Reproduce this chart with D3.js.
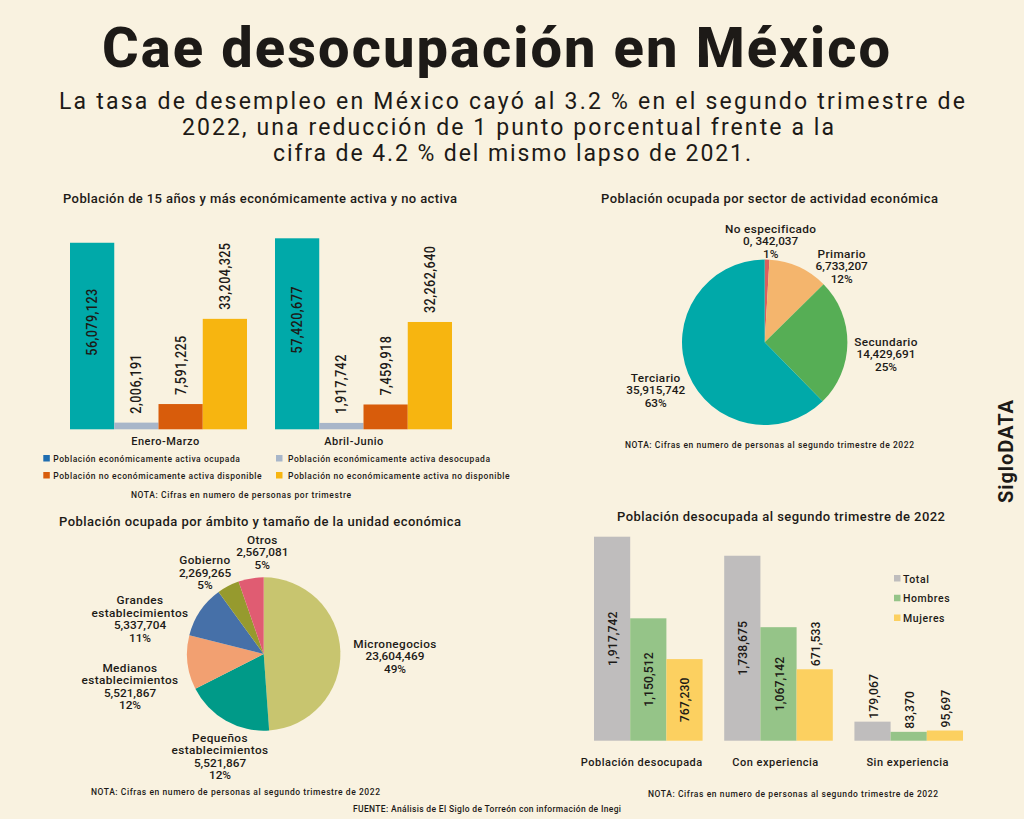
<!DOCTYPE html>
<html>
<head>
<meta charset="utf-8">
<script src="https://cdn.jsdelivr.net/npm/d3@7"></script>
<style>
  html, body { margin: 0; padding: 0; background: #f9f2e0; }
  svg { display: block; }
  text { font-family: Roboto, "Noto Sans", sans-serif; fill: #1d1a17; font-weight: 480; }
</style>
</head>
<body>
<div id="chart"></div>
<script>
// activity chart
var quarters = ["Enero-Marzo", "Abril-Junio"];
var activitySeries = [
  "Población económicamente activa ocupada",
  "Población económicamente activa desocupada",
  "Población no económicamente activa disponible",
  "Población no económicamente activa no disponible"
];
var activityQ1 = [56079123, 2006191, 7591225, 33204325];
var activityQ2 = [57420677, 1917742, 7459918, 32262640];

// sector pie. The slices are drawn a bit off the printed labels, so the slice
// values are read off the wedges and the labels are kept as printed
var sectorNames = ["No especificado", "Primario", "Secundario", "Terciario"];
var sectorValues = [530000, 6733207, 14429691, 35915742];
var sectorValueLabels = ["0, 342,037", "6,733,207", "14,429,691", "35,915,742"];
var sectorPercents = ["1%", "12%", "25%", "63%"];

// unit size pie, same thing for Pequeños
var unitNames = [
  ["Micronegocios"],
  ["Pequeños", "establecimientos"],
  ["Medianos", "establecimientos"],
  ["Grandes", "establecimientos"],
  ["Gobierno"],
  ["Otros"]
];
var unitValues = [23604469, 9000000, 5521867, 5337704, 2269265, 2567081];
var unitValueLabels = ["23,604,469", "5,521,867", "5,521,867", "5,337,704", "2,269,265", "2,567,081"];
var unitPercents = ["49%", "12%", "12%", "11%", "5%", "5%"];

// unemployed chart
var unemployedGroups = ["Población desocupada", "Con experiencia", "Sin experiencia"];
var unemployedSeries = ["Total", "Hombres", "Mujeres"];
var unemployedTotal = [1917742, 1738675, 179067];
var unemployedMen = [1150512, 1067142, 83370];
var unemployedWomen = [767230, 671533, 95697];

var activityColors = ["#00a9a9", "#a8b6c9", "#d85c0b", "#f7b510"];
var activityLegendColors = ["#1f6db0", "#a8b6c9", "#d85c0b", "#f7b510"];
var sectorColors = ["#d9605f", "#f4b56d", "#56ae55", "#00a9a9"];
var unitColors = ["#c8c56f", "#009a88", "#f2a071", "#4670a8", "#969a2e", "#e05c72"];
var unemployedColors = ["#bfbdbd", "#95c488", "#fcd060"];

var fmt = d3.format(",");
var svg = d3.select("#chart").append("svg").attr("width", 1024).attr("height", 819);

function fitText(x, y, str, size, width, weight) {
  var t = svg.append("text")
    .attr("x", x).attr("y", y)
    .attr("font-size", size)
    .attr("textLength", width).attr("lengthAdjust", "spacing")
    .text(str);
  if (weight) t.style("font-weight", weight);
  return t;
}

fitText(102, 67, "Cae desocupación en México", 56, 788, 800);
fitText(59, 109, "La tasa de desempleo en México cayó al 3.2 % en el segundo trimestre de", 23, 906, 430);
fitText(182, 135, "2022, una reducción de 1 punto porcentual frente a la", 23, 652, 430);
fitText(273, 161, "cifra de 4.2 % del mismo lapso de 2021.", 23, 478, 430);

fitText(63, 203, "Población de 15 años y más económicamente activa y no activa", 13, 394);
fitText(601, 203, "Población ocupada por sector de actividad económica", 13, 337);
fitText(59, 526, "Población ocupada por ámbito y tamaño de la unidad económica", 13, 402);
fitText(617, 521, "Población desocupada al segundo trimestre de 2022", 13, 328);

fitText(131, 498, "NOTA: Cifras en numero de personas por trimestre", 8.5, 220);
fitText(625, 448, "NOTA: Cifras en numero de personas al segundo trimestre de 2022", 8.5, 289);
fitText(91, 795, "NOTA: Cifras en numero de personas al segundo trimestre de 2022", 8.5, 289);
fitText(648, 797, "NOTA: Cifras en numero de personas al segundo trimestre de 2022", 8.5, 290);
fitText(353, 812, "FUENTE: Análisis de El Siglo de Torreón con información de Inegi", 8.5, 268);

svg.append("text")
  .attr("transform", "translate(1013,503) rotate(-90)")
  .attr("font-size", 20).style("font-weight", 700)
  .attr("textLength", 103).attr("lengthAdjust", "spacing")
  .text("SigloDATA");

// grouped bars with rotated value labels, big bars carry the label inside
function groupedBars(opts) {
  var x0 = d3.scaleBand().domain(opts.groups).range(opts.xRange).paddingInner(opts.gap);
  var x1 = d3.scaleBand().domain(d3.range(opts.colors.length)).range([0, x0.bandwidth()]);
  var y = d3.scaleLinear().domain([0, opts.max]).range([opts.base, opts.top]);

  var g = svg.selectAll(null).data(opts.rows).enter().append("g")
    .attr("transform", function (d, i) { return "translate(" + x0(opts.groups[i]) + ",0)"; });

  g.selectAll("rect").data(function (d) { return d; }).enter().append("rect")
    .attr("x", function (d, i) { return x1(i); })
    .attr("y", function (d) { return y(d); })
    .attr("width", x1.bandwidth())
    .attr("height", function (d) { return y(0) - y(d); })
    .attr("fill", function (d, i) { return opts.colors[i]; });

  g.selectAll("text").data(function (d) { return d; }).enter().append("text")
    .attr("transform", function (d, i) {
      var ty = d > opts.insideOver ? (y(d) + y(0)) / 2 - opts.insideLift : y(d) - opts.outsideGap;
      return "translate(" + (x1(i) + x1.bandwidth() / 2 + 5) + "," + ty + ") rotate(-90) scale(0.9,1)";
    })
    .attr("text-anchor", function (d) { return d > opts.insideOver ? "middle" : "start"; })
    .attr("font-size", opts.labelSize)
    .attr("letter-spacing", opts.labelSpacing)
    .text(function (d) { return fmt(d); });

  var axis = svg.append("g")
    .attr("transform", "translate(0," + opts.base + ")")
    .call(d3.axisBottom(x0).tickSize(0).tickPadding(opts.axisPad));
  axis.select(".domain").remove();
  // category labels do not sit quite under their groups in the original
  axis.selectAll("text")
    .attr("font-family", null)
    .attr("font-size", opts.axisSize)
    .attr("letter-spacing", opts.axisSpacing)
    .attr("dx", function (d, i) { return opts.axisShift[i]; });
}

groupedBars({
  groups: quarters,
  rows: [activityQ1, activityQ2],
  colors: activityColors,
  xRange: [70, 452],
  gap: 0.1366,
  base: 429.3,
  top: 238.3,
  max: 57420677,
  insideOver: 50000000,
  insideLift: 14,
  outsideGap: 9,
  labelSize: 14,
  labelSpacing: 0.5,
  axisShift: [7, -9.5],
  axisPad: 8,
  axisSize: 11,
  axisSpacing: 0.5
});

groupedBars({
  groups: unemployedGroups,
  rows: d3.range(3).map(function (i) { return [unemployedTotal[i], unemployedMen[i], unemployedWomen[i]]; }),
  colors: unemployedColors,
  xRange: [594, 963],
  gap: 0.166,
  base: 740.7,
  top: 536.7,
  max: 1917742,
  insideOver: 700000,
  insideLift: 0,
  outsideGap: 3,
  labelSize: 13.5,
  labelSpacing: 0.1,
  axisShift: [-6.5, -3, -1],
  axisPad: 18,
  axisSize: 11,
  axisSpacing: 0.5
});

function pieChart(opts) {
  var pie = d3.pie().sort(null).value(function (d) { return d; });
  var arc = d3.arc().innerRadius(0).outerRadius(opts.radius);
  svg.append("g")
    .attr("transform", "translate(" + opts.cx + "," + opts.cy + ")")
    .selectAll("path").data(pie(opts.values)).enter().append("path")
    .attr("d", arc)
    .attr("fill", function (d, i) { return opts.colors[i]; });

  opts.labels.forEach(function (lines, i) {
    var t = svg.append("text")
      .attr("x", opts.labelAt[i][0]).attr("y", opts.labelAt[i][1])
      .attr("text-anchor", "middle")
      .attr("font-size", 11.8);
    lines.forEach(function (line, k) {
      t.append("tspan").attr("x", opts.labelAt[i][0]).attr("dy", k ? 12.4 : 0)
        .attr("letter-spacing", /\d/.test(line) ? 0 : 0.4)
        .text(line);
    });
  });
}

pieChart({
  cx: 764.7, cy: 342.3, radius: 82.7,
  values: sectorValues,
  colors: sectorColors,
  labels: sectorNames.map(function (n, i) { return [n, sectorValueLabels[i], sectorPercents[i]]; }),
  labelAt: [[770.7, 232.7], [841.7, 257.7], [886, 346], [655.7, 382]]
});

pieChart({
  cx: 263.7, cy: 654, radius: 76.7,
  values: unitValues,
  colors: unitColors,
  labels: unitNames.map(function (n, i) { return n.concat([unitValueLabels[i], unitPercents[i]]); }),
  labelAt: [[395, 648], [220, 741.7], [130, 671.7], [140, 604.3], [205, 564.3], [262.3, 543.7]]
});

// legends
var activityLegendX = d3.scalePoint().domain([0, 1]).range([43.3, 276]);
var activityLegendY = d3.scalePoint().domain([0, 1]).range([455, 472]);
var lg = svg.selectAll(null).data(activitySeries).enter().append("g")
  .attr("transform", function (d, i) {
    return "translate(" + activityLegendX(i % 2) + "," + activityLegendY(i >> 1) + ")";
  });
lg.append("rect").attr("width", 6.5).attr("height", 6.5)
  .attr("fill", function (d, i) { return activityLegendColors[i]; });
lg.append("text")
  .attr("x", function (d, i) { return i % 2 ? 12 : 10; }).attr("y", 6.8)
  .attr("font-size", 8.5).attr("letter-spacing", 0.55)
  .text(function (d) { return d; });

var unemployedLegendY = d3.scalePoint().domain(unemployedSeries).range([575, 614.5]);
var lg2 = svg.selectAll(null).data(unemployedSeries).enter().append("g")
  .attr("transform", function (d) { return "translate(894," + unemployedLegendY(d) + ")"; });
lg2.append("rect").attr("width", 6.5).attr("height", 6.5)
  .attr("fill", function (d, i) { return unemployedColors[i]; });
lg2.append("text").attr("x", 9).attr("y", 7.5)
  .attr("font-size", 10.5).attr("letter-spacing", 0.6)
  .text(function (d) { return d; });
</script>
</body>
</html>
